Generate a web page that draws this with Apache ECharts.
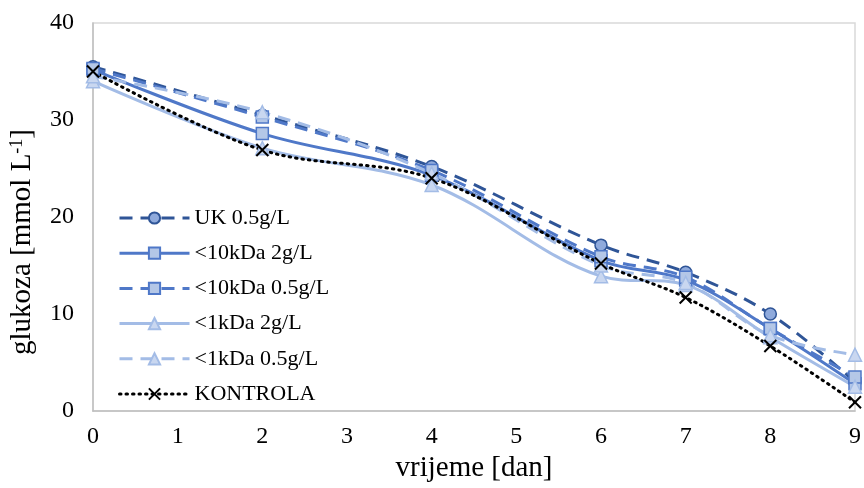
<!DOCTYPE html>
<html>
<head>
<meta charset="utf-8">
<script src="https://cdn.jsdelivr.net/npm/echarts@6/dist/echarts.min.js"></script>
<style>html,body{margin:0;padding:0;background:#fff}#c{width:864px;height:488px}</style>
</head>
<body>
<div id="c"></div>
<script>
const days = [0, 2, 4, 6, 7, 8, 9];
const xTicks = [0, 1, 2, 3, 4, 5, 6, 7, 8, 9];
const yTicks = [0, 10, 20, 30, 40];
const ukHalf = [35.5, 30.5, 25.2, 17.1, 14.3, 10.0, 3.0];
const kda10Two = [35.2, 28.6, 24.3, 15.5, 13.5, 8.5, 2.8];
const kda10Half = [35.3, 30.3, 24.8, 15.9, 13.8, 8.5, 3.5];
const kda1Two = [34.0, 27.1, 23.3, 13.9, 13.0, 7.6, 2.5];
const kda1Half = [34.5, 30.8, 24.5, 15.0, 13.2, 7.8, 5.8];
const kontrola = [35.0, 26.9, 24.0, 15.2, 11.7, 6.7, 0.9];

const names = ['UK 0.5g/L', '<10kDa 2g/L', '<10kDa 0.5g/L', '<1kDa 2g/L', '<1kDa 0.5g/L', 'KONTROLA'];
const font = 'Liberation Serif, Times New Roman, serif';

function pts(vals) { return days.map((d, i) => [d, vals[i]]); }

function mk(name, vals, color, dash, symbol, fill, border, size) {
  return {
    name: name, type: 'line', data: pts(vals), smooth: 0.35,
    symbol: symbol, symbolSize: size,
    lineStyle: { color: color, width: 3, type: dash },
    itemStyle: { color: fill, borderColor: border, borderWidth: 1.5 },
    emphasis: { disabled: true }
  };
}

const dash = [13, 8];
const series = [
  mk(names[0], ukHalf, '#2F5597', dash, 'circle', '#8FAADC', '#2F5597', 12),
  mk(names[1], kda10Two, '#4F78C8', 'solid', 'rect', '#B4C7E7', '#4F78C8', 12),
  mk(names[2], kda10Half, '#4F78C8', dash, 'rect', '#B4C7E7', '#4F78C8', 12),
  mk(names[3], kda1Two, '#A3BCE6', 'solid', 'triangle', '#C9D7F0', '#A3BCE6', 13),
  mk(names[4], kda1Half, '#A3BCE6', dash, 'triangle', '#C9D7F0', '#A3BCE6', 13),
  {
    name: names[5], type: 'line', data: pts(kontrola), smooth: 0.35,
    symbol: 'path://M0,0 L10,10 M10,0 L0,10', symbolSize: 12,
    lineStyle: { color: '#000', width: 3, type: [1.5, 5], cap: 'round' },
    itemStyle: { color: 'none', borderColor: '#000', borderWidth: 2 },
    emphasis: { disabled: true }
  }
];

const chart = echarts.init(document.getElementById('c'), null, { renderer: 'canvas' });
chart.setOption({
  animation: false,
  backgroundColor: '#fff',
  textStyle: { fontFamily: font },
  grid: { left: 89, right: 7, top: 23, bottom: 76, show: true, borderColor: '#D9D9D9', borderWidth: 1.5 },
  legend: {
    data: names, orient: 'vertical', left: 113, top: 202,
    itemWidth: 70, itemHeight: 14, itemGap: 13.2,
    lineStyle: { width: 3 },
    textStyle: { fontFamily: font, fontSize: 22, lineHeight: 22, color: '#000' }
  },
  xAxis: {
    type: 'value', min: 0, max: 9, interval: 1,
    name: 'vrijeme [dan]', nameLocation: 'middle', nameGap: 43,
    nameTextStyle: { fontFamily: font, fontSize: 29, color: '#000' },
    axisLine: { show: true, lineStyle: { color: '#BFBFBF', width: 1.5 } },
    axisTick: { show: false },
    splitLine: { show: false },
    axisLabel: { fontFamily: font, fontSize: 24, color: '#000', margin: 14,
      formatter: v => xTicks.includes(v) ? String(v) : '' }
  },
  yAxis: {
    type: 'value', min: 0, max: 40, interval: 10,
    name: '{a|glukoza [mmol L}{s|-1}{a|]}', nameLocation: 'middle', nameGap: 56, nameRotate: 90,
    nameTextStyle: { fontFamily: font, fontSize: 29, color: '#000', padding: [0, 50, 0, 0],
      rich: { a: { fontFamily: font, fontSize: 29, color: '#000' },
              s: { fontFamily: font, fontSize: 18, color: '#000', verticalAlign: 'top', padding: [0, 0, 10, 0] } } },
    axisLine: { show: true, lineStyle: { color: '#BFBFBF', width: 1.5 } },
    axisTick: { show: false },
    splitLine: { show: false },
    axisLabel: { fontFamily: font, fontSize: 24, color: '#000', margin: 19,
      formatter: v => yTicks.includes(v) ? String(v) : '' }
  },
  series: series
});
</script>
</body>
</html>
